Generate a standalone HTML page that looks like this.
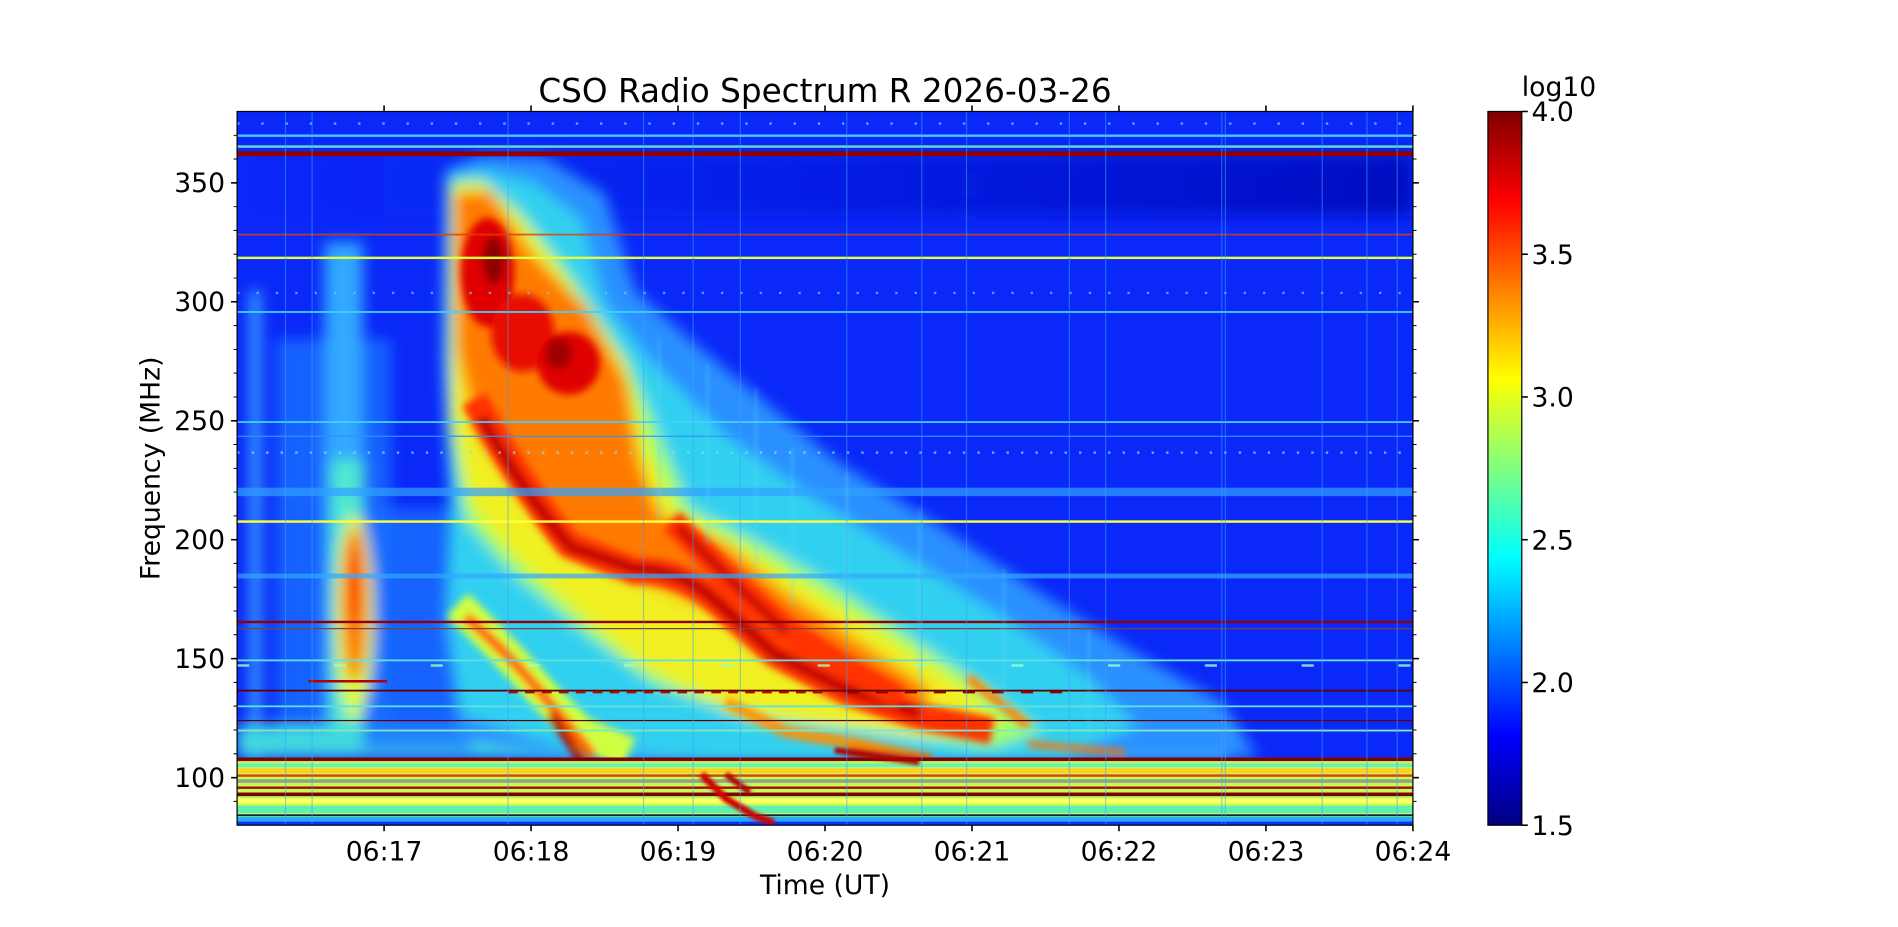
<!DOCTYPE html>
<html><head><meta charset="utf-8"><style>
html,body{margin:0;padding:0;background:#fff;width:1898px;height:927px;overflow:hidden}
svg{display:block}
text{font-family:"DejaVu Sans","Liberation Sans",sans-serif;fill:#000}
</style></head><body>
<svg width="1898" height="927" viewBox="0 0 1569 766" xmlns="http://www.w3.org/2000/svg">
<defs>
<linearGradient id="jet" x1="0" y1="1" x2="0" y2="0">
<stop offset="0" stop-color="#00007f"/><stop offset="0.125" stop-color="#0000ff"/>
<stop offset="0.375" stop-color="#00ffff"/><stop offset="0.625" stop-color="#ffff00"/>
<stop offset="0.875" stop-color="#ff0000"/><stop offset="1" stop-color="#7f0000"/>
</linearGradient>
<linearGradient id="topdark" x1="0" y1="0" x2="1" y2="0">
<stop offset="0" stop-color="#0020f0" stop-opacity="0"/><stop offset="0.5" stop-color="#0018d8" stop-opacity="0.6"/><stop offset="1" stop-color="#0010c0" stop-opacity="1"/>
</linearGradient>
<filter id="b6" x="-20%" y="-20%" width="140%" height="140%"><feGaussianBlur stdDeviation="6"/></filter>
<filter id="b3" x="-20%" y="-20%" width="140%" height="140%"><feGaussianBlur stdDeviation="3"/></filter>
<filter id="b2" x="-20%" y="-20%" width="140%" height="140%"><feGaussianBlur stdDeviation="1.6"/></filter>
<clipPath id="cp"><rect x="196" y="92" width="972" height="590"/></clipPath>
</defs>

<text x="682" y="84" font-size="27" text-anchor="middle">CSO Radio Spectrum R 2026-03-26</text>

<g clip-path="url(#cp)">
<rect x="196" y="92" width="972" height="590" fill="#0a28f8"/>
<rect x="196" y="128" width="972" height="50" fill="url(#topdark)" filter="url(#b6)"/>
<!-- left light regions -->
<g filter="url(#b6)">
<rect x="228" y="280" width="95" height="340" fill="#1c70ff" opacity="0.8"/>
<rect x="268" y="200" width="32" height="420" fill="#30a8ff"/>
<rect x="274" y="380" width="26" height="240" fill="#50e8d0"/>
<rect x="207" y="240" width="8" height="390" fill="#40b8ff"/>
<rect x="196" y="600" width="820" height="26" fill="#40d8e0"/>
<rect x="300" y="420" width="90" height="200" fill="#1870ff" opacity="0.8"/>
<ellipse cx="293" cy="510" rx="16" ry="85" fill="#d8ff30"/>
<ellipse cx="293" cy="500" rx="10" ry="65" fill="#ff7000"/>
<ellipse cx="292" cy="480" rx="6" ry="35" fill="#ff3000"/>
</g>
<!-- main burst halo -->
<g filter="url(#b6)">
<polygon fill="#2a90ff" points="368,140 400,128 450,130 500,160 525,240 570,280 630,330 690,380 770,430 860,490 940,540 1010,580 1040,626 700,626 470,626 380,610 366,520 372,420 366,300"/>
<polygon fill="#30d0f0" points="370,145 398,140 440,150 480,180 500,250 540,300 600,360 670,410 750,460 830,510 900,560 940,600 880,626 600,626 470,620 380,590 370,500 372,400 368,300"/>
<polygon fill="#a0ff60" points="372,150 398,148 430,175 470,225 520,300 545,360 570,420 630,450 690,485 750,525 810,565 860,605 820,618 720,605 620,595 540,565 480,520 420,470 385,430 372,350"/>
<polygon fill="#f0f020" points="374,155 400,152 432,185 470,235 515,300 535,370 560,425 620,455 680,492 740,530 800,570 830,600 760,608 680,598 600,585 530,550 470,500 420,455 388,415 374,340"/>
<polygon fill="#ff7a00" points="376,160 405,158 440,210 485,255 518,315 528,380 545,425 600,450 650,490 710,530 770,570 760,590 700,575 640,545 590,505 530,480 475,460 430,410 395,360 378,290"/>
</g>
<g filter="url(#b3)">
<ellipse cx="403" cy="225" rx="22" ry="45" fill="#e00000"/>
<ellipse cx="432" cy="275" rx="26" ry="32" fill="#e81000"/>
<ellipse cx="470" cy="300" rx="26" ry="26" fill="#e00000"/>
<ellipse cx="408" cy="215" rx="9" ry="20" fill="#900000"/>
<ellipse cx="462" cy="292" rx="11" ry="13" fill="#a00000"/>
<path d="M392,330 Q430,400 470,450 L525,472 Q560,470 590,495 L640,540 L700,572 L760,592 L820,604" stroke="#ff3000" stroke-width="22" fill="none"/>
<path d="M398,345 Q435,410 472,452 L525,470 Q560,470 590,495 L640,540 L700,570 L760,590" stroke="#c00000" stroke-width="9" fill="none"/>
<path d="M555,430 L600,475 L650,520 L700,552 L745,578" stroke="#ff3000" stroke-width="20" fill="none"/>
<path d="M560,435 L605,480 L650,522" stroke="#c80000" stroke-width="7" fill="none"/>
<path d="M378,500 Q420,540 450,575 L480,605 L520,622" stroke="#d0ff40" stroke-width="26" fill="none"/>
<path d="M385,510 Q415,535 445,570 L470,600 L490,625" stroke="#ff6000" stroke-width="9" fill="none"/>
<path d="M455,590 L475,620 L485,640" stroke="#b00000" stroke-width="7" fill="none"/>
<path d="M600,580 L650,605 L710,615 L770,628" stroke="#ff9000" stroke-width="9" fill="none"/>
<path d="M700,620 L770,628" stroke="#d00000" stroke-width="5" fill="none"/>
<path d="M850,615 L930,622" stroke="#ff7000" stroke-width="5" fill="none"/>
<path d="M800,560 L850,600" stroke="#ff8000" stroke-width="7" fill="none"/>
</g>

<!-- horizontal lines -->
<rect x="196" y="111" width="972" height="2" fill="#40c8ff"/>
<rect x="196" y="120" width="972" height="2" fill="#60e0c0"/>
<rect x="196" y="125" width="972" height="4" fill="#900000"/>
<rect x="196" y="193" width="972" height="1.5" fill="#e04000" opacity="0.8"/>
<rect x="196" y="212" width="972" height="2" fill="#e0ff40"/>
<rect x="196" y="257" width="972" height="1.5" fill="#40d0ff"/>
<rect x="196" y="348" width="972" height="1.5" fill="#40d0ff"/>
<rect x="196" y="360" width="972" height="1" fill="#3090ff"/>
<rect x="196" y="403" width="972" height="7" fill="#30a0ff" opacity="0.7"/>
<rect x="196" y="430" width="972" height="2" fill="#ffff40"/>
<rect x="196" y="474" width="972" height="4" fill="#30a8ff" opacity="0.7"/>
<rect x="196" y="513" width="972" height="2" fill="#900000"/>
<rect x="196" y="519" width="972" height="1" fill="#804040"/>
<rect x="196" y="545" width="972" height="1.5" fill="#60e0e0"/>
<rect x="196" y="570" width="972" height="1.5" fill="#600000"/>
<rect x="196" y="583" width="972" height="1.5" fill="#60e0e0"/>
<rect x="196" y="595" width="972" height="1" fill="#600000"/>
<rect x="196" y="603" width="972" height="1.5" fill="#80e8c0"/>
<!-- bottom band -->
<rect x="196" y="626" width="972" height="56" fill="#b8ff60"/>
<rect x="196" y="626" width="972" height="3" fill="#800000"/>
<rect x="196" y="631" width="972" height="3" fill="#70f0b0"/>
<rect x="196" y="635" width="972" height="4" fill="#ffd020"/>
<rect x="196" y="640" width="972" height="2" fill="#e04000"/>
<rect x="196" y="644" width="972" height="3" fill="#a0a080"/>
<rect x="196" y="650" width="972" height="2" fill="#c00000"/>
<rect x="196" y="655" width="972" height="3" fill="#800000"/>
<rect x="196" y="660" width="972" height="4" fill="#ffff60"/>
<rect x="196" y="666" width="972" height="6" fill="#60f0b0"/>
<rect x="196" y="673" width="972" height="1.5" fill="#102040"/>
<rect x="196" y="675" width="972" height="4" fill="#20b0ff"/>
<rect x="196" y="679" width="972" height="3" fill="#0830ff"/>
<g filter="url(#b2)">
<path d="M580,640 L600,660 L625,675 L640,680" stroke="#d00000" stroke-width="6" fill="none"/>
<path d="M600,640 L620,655" stroke="#b00000" stroke-width="5" fill="none"/>
<path d="M690,620 L760,630" stroke="#b00000" stroke-width="5" fill="none"/>
</g>
<!-- short dashes -->
<g stroke-width="2">
<line x1="255" y1="563" x2="320" y2="563" stroke="#b00000"/>
<line x1="420" y1="572" x2="680" y2="572" stroke="#a01000" stroke-dasharray="8,6"/>
<line x1="700" y1="572" x2="880" y2="572" stroke="#900000" stroke-dasharray="10,14"/>
<line x1="196" y1="550" x2="1168" y2="550" stroke="#a0ffc0" stroke-dasharray="10,70" opacity="0.8"/>
<line x1="196" y1="242" x2="1168" y2="242" stroke="#60d0ff" stroke-dasharray="2,14" opacity="0.7"/>
<line x1="196" y1="102" x2="1168" y2="102" stroke="#60d0ff" stroke-dasharray="2,18" opacity="0.8"/>
<line x1="196" y1="374" x2="1168" y2="374" stroke="#80e0ff" stroke-dasharray="2,10" opacity="0.7"/>
</g>
<!-- vertical faint streaks -->
<g stroke="#40a0ff" stroke-width="1" opacity="0.5">
<line x1="236" y1="92" x2="236" y2="682"/><line x1="258" y1="92" x2="258" y2="682"/>
<line x1="420" y1="92" x2="420" y2="682"/><line x1="532" y1="92" x2="532" y2="682"/>
<line x1="573" y1="92" x2="573" y2="682"/><line x1="612" y1="92" x2="612" y2="682"/>
<line x1="700" y1="92" x2="700" y2="682"/><line x1="762" y1="92" x2="762" y2="682"/>
<line x1="799" y1="92" x2="799" y2="682"/><line x1="884" y1="92" x2="884" y2="682"/>
<line x1="914" y1="92" x2="914" y2="682"/><line x1="1010" y1="92" x2="1010" y2="682"/>
<line x1="1013" y1="92" x2="1013" y2="682"/><line x1="1093" y1="92" x2="1093" y2="682"/>
<line x1="1130" y1="92" x2="1130" y2="682"/><line x1="1155" y1="92" x2="1155" y2="682"/>
</g>
<g stroke="#60d8ff" stroke-width="2" opacity="0.35" filter="url(#b2)">
<line x1="545" y1="280" x2="545" y2="430"/><line x1="585" y1="300" x2="585" y2="450"/>
<line x1="625" y1="320" x2="625" y2="470"/><line x1="655" y1="370" x2="655" y2="500"/>
<line x1="700" y1="390" x2="700" y2="520"/><line x1="760" y1="420" x2="760" y2="560"/>
<line x1="830" y1="470" x2="830" y2="590"/><line x1="900" y1="520" x2="900" y2="610"/>
</g>
</g>
<rect x="196" y="92" width="972" height="590" fill="none" stroke="#000" stroke-width="1"/>

<!-- x ticks -->
<g stroke="#000" stroke-width="1.3">
<line x1="317.5" y1="682" x2="317.5" y2="687"/><line x1="439" y1="682" x2="439" y2="687"/>
<line x1="560.5" y1="682" x2="560.5" y2="687"/><line x1="682" y1="682" x2="682" y2="687"/>
<line x1="803.5" y1="682" x2="803.5" y2="687"/><line x1="925" y1="682" x2="925" y2="687"/>
<line x1="1046.5" y1="682" x2="1046.5" y2="687"/><line x1="1168" y1="682" x2="1168" y2="687"/>
<line x1="317.5" y1="92" x2="317.5" y2="87"/><line x1="439" y1="92" x2="439" y2="87"/>
<line x1="560.5" y1="92" x2="560.5" y2="87"/><line x1="682" y1="92" x2="682" y2="87"/>
<line x1="803.5" y1="92" x2="803.5" y2="87"/><line x1="925" y1="92" x2="925" y2="87"/>
<line x1="1046.5" y1="92" x2="1046.5" y2="87"/><line x1="1168" y1="92" x2="1168" y2="87"/>
<line x1="196" y1="642.7" x2="191" y2="642.7"/><line x1="196" y1="544.3" x2="191" y2="544.3"/>
<line x1="196" y1="446" x2="191" y2="446"/><line x1="196" y1="347.7" x2="191" y2="347.7"/>
<line x1="196" y1="249.3" x2="191" y2="249.3"/><line x1="196" y1="151" x2="191" y2="151"/>
<line x1="1168" y1="642.7" x2="1173" y2="642.7"/><line x1="1168" y1="544.3" x2="1173" y2="544.3"/>
<line x1="1168" y1="446" x2="1173" y2="446"/><line x1="1168" y1="347.7" x2="1173" y2="347.7"/>
<line x1="1168" y1="249.3" x2="1173" y2="249.3"/><line x1="1168" y1="151" x2="1173" y2="151"/>
</g>
<g stroke="#000" stroke-width="0.8">
<path d="M196,662.3h-3M196,622.9h-3M196,603.3h-3M196,583.6h-3M196,563.9h-3M196,524.6h-3M196,504.9h-3M196,485.3h-3M196,465.6h-3M196,426.3h-3M196,406.6h-3M196,387h-3M196,367.3h-3M196,328h-3M196,308.3h-3M196,288.7h-3M196,269h-3M196,229.7h-3M196,210h-3M196,190.3h-3M196,170.7h-3M196,131.3h-3M196,111.7h-3"/>
<path d="M1168,662.3h3M1168,622.9h3M1168,603.3h3M1168,583.6h3M1168,563.9h3M1168,524.6h3M1168,504.9h3M1168,485.3h3M1168,465.6h3M1168,426.3h3M1168,406.6h3M1168,387h3M1168,367.3h3M1168,328h3M1168,308.3h3M1168,288.7h3M1168,269h3M1168,229.7h3M1168,210h3M1168,190.3h3M1168,170.7h3M1168,131.3h3M1168,111.7h3"/>
</g>
<g font-size="22" text-anchor="middle">
<text x="317.5" y="711">06:17</text><text x="439" y="711">06:18</text><text x="560.5" y="711">06:19</text>
<text x="682" y="711">06:20</text><text x="803.5" y="711">06:21</text><text x="925" y="711">06:22</text>
<text x="1046.5" y="711">06:23</text><text x="1168" y="711">06:24</text>
<text x="682" y="739">Time (UT)</text>
</g>
<g font-size="22" text-anchor="end">
<text x="186" y="650.5">100</text><text x="186" y="552">150</text><text x="186" y="453.5">200</text>
<text x="186" y="355.5">250</text><text x="186" y="257">300</text><text x="186" y="158.5">350</text>
</g>
<text transform="translate(132,387) rotate(-90)" font-size="22" text-anchor="middle">Frequency (MHz)</text>

<!-- colorbar -->
<rect x="1230" y="92" width="28" height="590" fill="url(#jet)" stroke="#000" stroke-width="1"/>
<g stroke="#000" stroke-width="1.3">
<line x1="1258" y1="92" x2="1263" y2="92"/><line x1="1258" y1="210" x2="1263" y2="210"/>
<line x1="1258" y1="328" x2="1263" y2="328"/><line x1="1258" y1="446" x2="1263" y2="446"/>
<line x1="1258" y1="564" x2="1263" y2="564"/><line x1="1258" y1="682" x2="1263" y2="682"/>
</g>
<g font-size="22">
<text x="1266" y="100">4.0</text><text x="1266" y="218">3.5</text><text x="1266" y="336">3.0</text>
<text x="1266" y="454">2.5</text><text x="1266" y="572">2.0</text><text x="1266" y="690">1.5</text>
<text x="1258" y="79">log10</text>
</g>
</svg>
</body></html>
